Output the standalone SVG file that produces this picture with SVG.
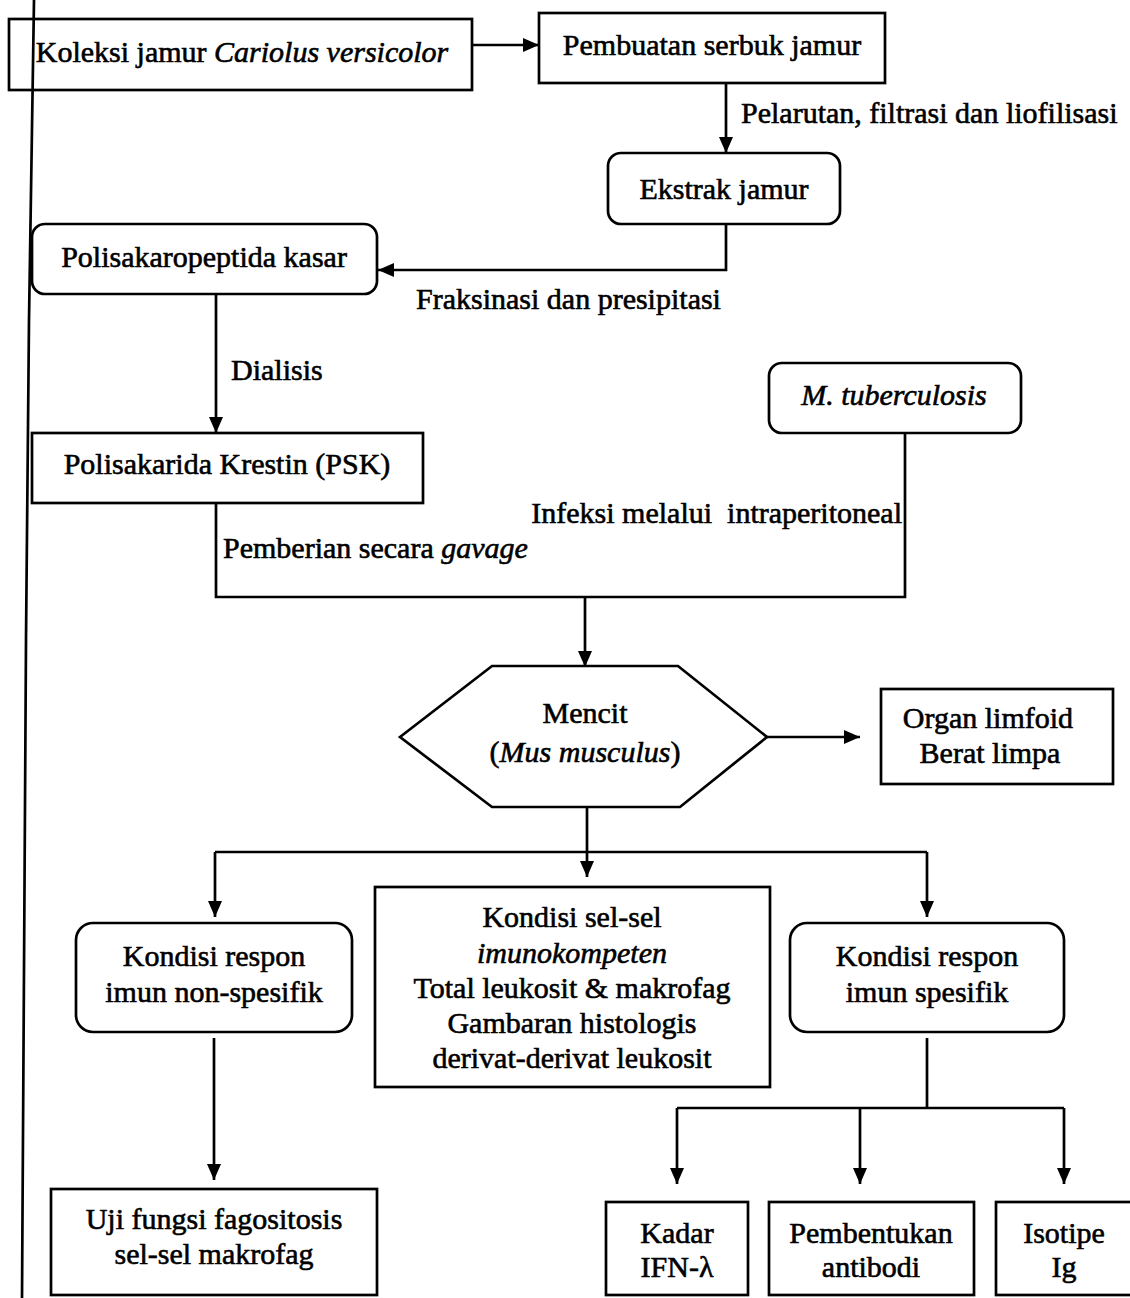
<svg xmlns="http://www.w3.org/2000/svg" width="1130" height="1298" viewBox="0 0 1130 1298">
<style>
.box{fill:#fff;stroke:#000;stroke-width:2.7}
.ln{fill:none;stroke:#000;stroke-width:2.7}
text{font-family:"Liberation Serif","Times New Roman",serif;font-size:30px;fill:#000;stroke:#000;stroke-width:0.6}
.c{text-anchor:middle}
.i{font-style:italic}
</style>
<defs>
<marker id="ah" markerUnits="userSpaceOnUse" viewBox="0 0 16 14" refX="16" refY="7" markerWidth="16" markerHeight="14" orient="auto">
<path d="M0,0 L16,7 L0,14 z" fill="#000"/>
</marker>
</defs>
<rect width="1130" height="1298" fill="#fff"/>
<g id="connectors">
<line class="ln" x1="472" y1="45" x2="539" y2="45" marker-end="url(#ah)"/>
<line class="ln" x1="726" y1="83" x2="726" y2="153" marker-end="url(#ah)"/>
<polyline class="ln" points="726,224 726,270 378,270" marker-end="url(#ah)"/>
<line class="ln" x1="216" y1="294" x2="216" y2="433" marker-end="url(#ah)"/>
<polyline class="ln" points="216,503 216,597 905,597 905,433"/>
<line class="ln" x1="585" y1="597" x2="585" y2="667" marker-end="url(#ah)"/>
<line class="ln" x1="767" y1="737" x2="860" y2="737" marker-end="url(#ah)"/>
<line class="ln" x1="587" y1="807" x2="587" y2="877" marker-end="url(#ah)"/>
<line class="ln" x1="215" y1="852" x2="927" y2="852"/>
<line class="ln" x1="215" y1="852" x2="215" y2="917" marker-end="url(#ah)"/>
<line class="ln" x1="927" y1="852" x2="927" y2="917" marker-end="url(#ah)"/>
<line class="ln" x1="214" y1="1038" x2="214" y2="1180" marker-end="url(#ah)"/>
<line class="ln" x1="927" y1="1038" x2="927" y2="1108"/>
<line class="ln" x1="677" y1="1108" x2="1064" y2="1108"/>
<line class="ln" x1="677" y1="1108" x2="677" y2="1184" marker-end="url(#ah)"/>
<line class="ln" x1="860" y1="1108" x2="860" y2="1184" marker-end="url(#ah)"/>
<line class="ln" x1="1064" y1="1108" x2="1064" y2="1184" marker-end="url(#ah)"/>
</g>
<g id="koleksi">
<rect class="box" x="9" y="19" width="463" height="71"/>
<text class="c" x="242" y="62">Koleksi jamur <tspan class="i">Cariolus versicolor</tspan></text>
</g>
<g id="pembuatan">
<rect class="box" x="539" y="13" width="346" height="70"/>
<text class="c" x="712" y="55">Pembuatan serbuk jamur</text>
</g>
<g id="label-pelarutan"><text x="741" y="123">Pelarutan, filtrasi dan liofilisasi</text></g>
<g id="ekstrak">
<rect class="box" x="608" y="153" width="232" height="71" rx="13"/>
<text class="c" x="724" y="199">Ekstrak jamur</text>
</g>
<g id="polisakaropeptida">
<rect class="box" x="32" y="224" width="345" height="70" rx="13"/>
<text class="c" x="204" y="267">Polisakaropeptida kasar</text>
</g>
<g id="label-fraksinasi"><text x="416" y="309">Fraksinasi dan presipitasi</text></g>
<g id="label-dialisis"><text x="231" y="380">Dialisis</text></g>
<g id="psk">
<rect class="box" x="32" y="433" width="391" height="70"/>
<text class="c" x="227" y="474">Polisakarida Krestin (PSK)</text>
</g>
<g id="mtb">
<rect class="box" x="769" y="363" width="252" height="70" rx="13"/>
<text class="c i" x="894" y="405">M. tuberculosis</text>
</g>
<g id="label-infeksi"><text x="902" y="523" text-anchor="end" style="white-space:pre">Infeksi melalui  intraperitoneal</text></g>
<g id="label-pemberian"><text x="223" y="558">Pemberian secara <tspan class="i">gavage</tspan></text></g>
<g id="mencit">
<polygon class="box" points="400,737 492,666 678,666 767,737 680,807 492,807"/>
<text class="c" x="585" y="723">Mencit</text>
<text class="c" x="585" y="762">(<tspan class="i">Mus musculus</tspan>)</text>
</g>
<g id="organ">
<rect class="box" x="881" y="689" width="232" height="95"/>
<text class="c" x="988" y="728">Organ limfoid</text>
<text class="c" x="990" y="763">Berat limpa</text>
</g>
<g id="nonspesifik">
<rect class="box" x="76" y="923" width="276" height="109" rx="17"/>
<text class="c" x="214" y="966">Kondisi respon</text>
<text class="c" x="214" y="1002">imun non-spesifik</text>
</g>
<g id="imunokompeten">
<rect class="box" x="375" y="887" width="395" height="200"/>
<text class="c" x="572" y="927">Kondisi sel-sel</text>
<text class="c i" x="572" y="963">imunokompeten</text>
<text class="c" x="572" y="998">Total leukosit &amp; makrofag</text>
<text class="c" x="572" y="1033">Gambaran histologis</text>
<text class="c" x="572" y="1068">derivat-derivat leukosit</text>
</g>
<g id="spesifik">
<rect class="box" x="790" y="923" width="274" height="109" rx="17"/>
<text class="c" x="927" y="966">Kondisi respon</text>
<text class="c" x="927" y="1002">imun spesifik</text>
</g>
<g id="uji">
<rect class="box" x="51" y="1189" width="326" height="106"/>
<text class="c" x="214" y="1229">Uji fungsi fagositosis</text>
<text class="c" x="214" y="1264">sel-sel makrofag</text>
</g>
<g id="kadar">
<rect class="box" x="606" y="1202" width="142" height="93"/>
<text class="c" x="677" y="1243">Kadar</text>
<text class="c" x="677" y="1277">IFN-λ</text>
</g>
<g id="pembentukan">
<rect class="box" x="769" y="1202" width="205" height="93"/>
<text class="c" x="871" y="1243">Pembentukan</text>
<text class="c" x="871" y="1277">antibodi</text>
</g>
<g id="isotipe">
<rect class="box" x="996" y="1202" width="145" height="93"/>
<text class="c" x="1064" y="1243">Isotipe</text>
<text class="c" x="1064" y="1277">Ig</text>
</g>
<g id="margin-line">
<polyline class="ln" points="34,0 29,320 26,640 24,970 22,1298"/>
</g>
</svg>
